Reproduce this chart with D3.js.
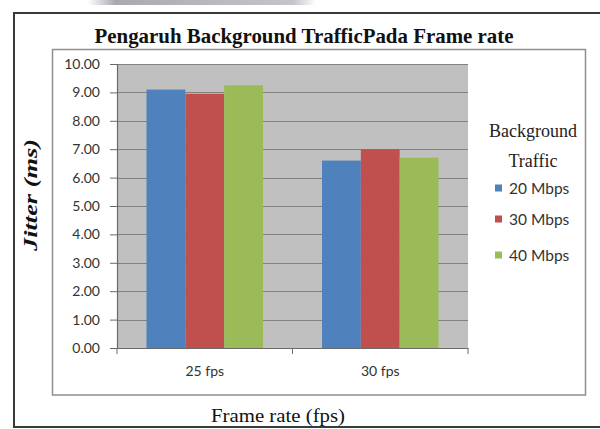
<!DOCTYPE html>
<html><head><meta charset="utf-8">
<script src="https://cdn.jsdelivr.net/npm/d3@7"></script>
<style>html,body{margin:0;padding:0;background:#fff;}svg{display:block;}</style>
</head><body>
<script>
const categories = ["25 fps", "30 fps"];
const seriesNames = ["20 Mbps", "30 Mbps", "40 Mbps"];
const values20 = [9.1, 6.6];
const values30 = [8.95, 7.0];
const values40 = [9.25, 6.7];
const yTickValues = [0, 1, 2, 3, 4, 5, 6, 7, 8, 9, 10];
const colors = ["#4F81BD", "#C0504D", "#9BBB59"];
const titleText = "Pengaruh Background TrafficPada Frame rate";
const yLabel = "Jitter (ms)";
const xLabel = "Frame rate (fps)";
const legendTitle = ["Background", "Traffic"];

const seriesValues = [values20, values30, values40];
const W = 600, H = 429;
const svg = d3.select("body").append("svg").attr("width", W).attr("height", H);

// scan artifact at top
const defs = svg.append("defs");
const g1 = defs.append("linearGradient").attr("id", "topg");
g1.append("stop").attr("offset", "0").attr("stop-color", "#ffffff");
g1.append("stop").attr("offset", "0.12").attr("stop-color", "#a9a9b0");
g1.append("stop").attr("offset", "0.9").attr("stop-color", "#c4c4cc");
g1.append("stop").attr("offset", "1").attr("stop-color", "#ffffff");
svg.append("rect").attr("x", 88).attr("y", 0).attr("width", 228).attr("height", 5).attr("fill", "url(#topg)");

// outer frame
svg.append("rect").attr("x", 14).attr("y", 13).attr("width", 590).attr("height", 414)
  .attr("fill", "none").attr("stroke", "#3a3a3a").attr("stroke-width", 2);
// inner chart box
svg.append("rect").attr("x", 52.5).attr("y", 49.5).attr("width", 533).attr("height", 345.5)
  .attr("fill", "none").attr("stroke", "#8e8e8e").attr("stroke-width", 1.5);

const plotL = 117, plotR = 468, plotT = 64, plotB = 348;
const y = d3.scaleLinear().domain([0, 10]).range([plotB, plotT]);
const x0 = d3.scaleBand().domain(categories).range([plotL, plotR]).padding(0);
const bw = x0.bandwidth();
const x1 = d3.scaleBand().domain(seriesNames).range([bw * 0.168, bw * 0.832]).padding(0);

// plot background
svg.append("rect").attr("x", plotL).attr("y", plotT).attr("width", plotR - plotL).attr("height", plotB - plotT)
  .attr("fill", "#c0c0c0");

// gridlines
svg.append("g").selectAll("line").data(yTickValues.filter(d => d > 0)).join("line")
  .attr("x1", plotL).attr("x2", plotR)
  .attr("y1", d => Math.round(y(d)) + 0.5).attr("y2", d => Math.round(y(d)) + 0.5)
  .attr("stroke", "#828282").attr("stroke-width", 1.2);

// bars
const groups = svg.append("g").selectAll("g").data(categories).join("g")
  .attr("transform", d => `translate(${x0(d)},0)`);
groups.selectAll("rect").data((c, ci) => seriesNames.map((s, si) => ({ s, si, v: seriesValues[si][ci] })))
  .join("rect")
  .attr("x", d => x1(d.s)).attr("width", x1.bandwidth())
  .attr("y", d => y(d.v)).attr("height", d => y(0) - y(d.v))
  .attr("fill", d => colors[d.si]);

// y axis
const yAxis = d3.axisLeft(y).tickValues(yTickValues).tickFormat(d => d.toFixed(2)).tickSize(7).tickPadding(10);
const ya = svg.append("g").attr("transform", `translate(${plotL},0)`).call(yAxis);
ya.select(".domain").attr("stroke", "#6a6a6a").attr("stroke-width", 1.2);
ya.selectAll(".tick line").attr("stroke", "#6a6a6a");
ya.selectAll(".tick text").attr("font-family", "Lato, 'Open Sans', sans-serif").attr("font-size", 14)
  .attr("fill", "#333");

// x axis
const xAxis = d3.axisBottom(x0).tickSize(0).tickPadding(18);
const xa = svg.append("g").attr("transform", `translate(0,${plotB})`).call(xAxis);
xa.select(".domain").attr("stroke", "#6a6a6a").attr("stroke-width", 1.2);
xa.selectAll(".tick text").attr("font-family", "Lato, 'Open Sans', sans-serif").attr("font-size", 14)
  .attr("fill", "#333");
// category boundary ticks
const bounds = [plotL].concat(categories.map(c => x0(c) + bw));
xa.append("g").selectAll("line").data(bounds).join("line")
  .attr("x1", d => d).attr("x2", d => d).attr("y1", 0).attr("y2", 6)
  .attr("stroke", "#6a6a6a");

// title
svg.append("text").attr("x", 304).attr("y", 43).attr("text-anchor", "middle")
  .attr("font-family", "'Liberation Serif', 'Times New Roman', serif").attr("font-weight", "bold")
  .attr("font-size", 21).attr("textLength", 419).attr("lengthAdjust", "spacingAndGlyphs")
  .attr("fill", "#111").text(titleText);

// y label
svg.append("text").attr("transform", "translate(37,195) rotate(-90)").attr("text-anchor", "middle")
  .attr("font-family", "'Liberation Serif', 'Times New Roman', serif").attr("font-weight", "bold")
  .attr("font-style", "italic").attr("font-size", 19).attr("textLength", 112)
  .attr("lengthAdjust", "spacingAndGlyphs").attr("fill", "#111").text(yLabel);

// x label
svg.append("text").attr("x", 278).attr("y", 422).attr("text-anchor", "middle")
  .attr("font-family", "'Liberation Serif', 'Times New Roman', serif")
  .attr("font-size", 19).attr("textLength", 134).attr("lengthAdjust", "spacingAndGlyphs")
  .attr("fill", "#111").text(xLabel);

// legend
const lg = svg.append("g");
lg.selectAll("text.lt").data(legendTitle).join("text").attr("class", "lt")
  .attr("x", 533).attr("y", (d, i) => 137 + i * 30).attr("text-anchor", "middle")
  .attr("font-family", "'Liberation Serif', 'Times New Roman', serif")
  .attr("font-size", 18).attr("fill", "#222").text(d => d);
const itemY = [188, 219, 255];
const items = lg.selectAll("g.item").data(seriesNames).join("g").attr("class", "item")
  .attr("transform", (d, i) => `translate(495,${itemY[i]})`);
items.append("rect").attr("x", 0).attr("y", -3.5).attr("width", 7).attr("height", 7)
  .attr("fill", (d, i) => colors[i]);
items.append("text").attr("x", 14).attr("y", 0).attr("dy", "0.36em")
  .attr("font-family", "Lato, 'Open Sans', sans-serif").attr("font-size", 15.5).attr("fill", "#333")
  .text(d => d);
</script>
</body></html>
